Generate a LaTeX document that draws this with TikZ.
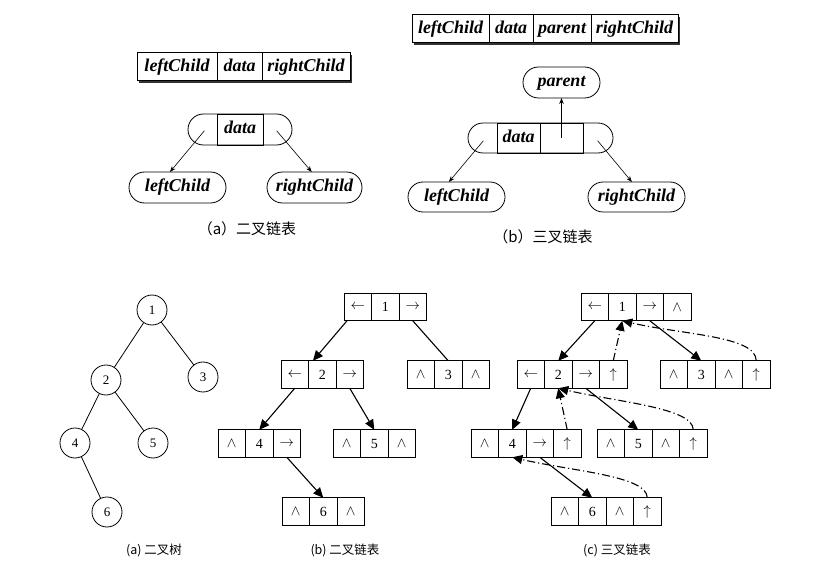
\documentclass[tikz,border=0pt]{standalone}
\usepackage{fontspec}
\setmainfont{Liberation Serif}
\newfontfamily\cjk{Noto Sans CJK SC}
\usetikzlibrary{arrows.meta,positioning,shapes.misc,shadows}
\newcommand{\cellrow}[4]{%
  \foreach \lbl [count=\i] in {#4}
    \node[cell] (#1-\i) at ({#2+27.5*(\i-1)},#3) {\lbl};}

\begin{document}
\begin{tikzpicture}[x=1pt, y=-1pt,
    rec/.style={draw, outer sep=0pt, inner sep=0pt, minimum height=28pt, line width=1pt,
      text height=12.5pt, text depth=4pt, font=\fontsize{18}{21}\selectfont\bfseries\itshape},
    hdr/.style={rec, fill=white, drop shadow={shadow xshift=1.6pt, shadow yshift=-1.6pt, opacity=1, fill=black!80}},
    oval/.style={rounded rectangle, draw, outer sep=0pt, inner sep=0pt, minimum height=31pt,
      text height=12.5pt, text depth=4pt, line width=0.8pt, font=\fontsize{18}{21}\selectfont\bfseries\itshape},
    cell/.style={draw, outer sep=0pt, inner sep=0pt, minimum size=27.5pt, line width=0.8pt,
      font=\fontsize{14}{16}\selectfont},
    vert/.style={circle, draw, minimum size=30pt, inner sep=0pt, line width=0.8pt,
      font=\fontsize{13}{15}\selectfont},
    thin arr/.style={-{Stealth[length=6pt,width=4.5pt]}, line width=0.6pt},
    arr/.style={-{Triangle[length=10pt,width=9pt]}, line width=1.1pt},
    par/.style={arr, dash pattern=on 8pt off 3pt on 1.2pt off 3pt},
    captext/.style={font=\cjk\fontsize{15}{18}\selectfont},
    subcap/.style={font=\cjk\fontsize{12.5}{15}\selectfont}
  ]
  \useasboundingbox (0,0) rectangle (831,567);

  % binary linked node
  \node[hdr, minimum width=80pt] (ra1) at (177,67) {leftChild};
  \node[hdr, minimum width=45pt, right=0pt of ra1] (ra2) {data};
  \node[hdr, minimum width=88pt, right=0pt of ra2] (ra3) {rightChild};
  \node[oval, minimum width=104pt] (an) at (240,129.5) {};
  \node[rec, minimum width=46pt, minimum height=31pt, line width=0.8pt] (an-d) at (an.center) {data};
  \node[inner sep=0pt] (an-l) at (205,130) {};
  \node[inner sep=0pt] (an-r) at (276,130) {};
  \node[oval, minimum width=97pt] (alc) at (177.5,187.5) {leftChild};
  \node[oval, minimum width=95pt] (arc) at (314.5,187.5) {rightChild};
  \draw[thin arr] (an-l) -- (alc.116);
  \draw[thin arr] (an-r) -- (arc.100);
  \node[captext] (capa) at (247,229) {（a）二叉链表};

  % triple linked node
  \node[hdr, minimum width=77pt] (rb1) at (450.5,29) {leftChild};
  \node[hdr, minimum width=44pt, right=0pt of rb1] (rb2) {data};
  \node[hdr, minimum width=58pt, right=0pt of rb2] (rb3) {parent};
  \node[hdr, minimum width=87pt, right=0pt of rb3] (rb4) {rightChild};
  \node[oval, minimum width=77pt] (bp) at (561.5,82.5) {parent};
  \node[oval, minimum width=145pt, minimum height=30pt] (bn) at (540.5,138) {};
  \node[rec, minimum width=43pt, minimum height=30pt, line width=0.8pt] (bn-d) at (518.5,138) {data};
  \node[rec, minimum width=43pt, minimum height=30pt, line width=0.8pt, right=0pt of bn-d] (bn-p) {};
  \node[inner sep=0pt] (bn-l) at (484,140) {};
  \node[inner sep=0pt] (bn-r) at (597,140) {};
  \node[oval, minimum width=97pt, minimum height=30pt] (blc) at (456.5,197) {leftChild};
  \node[oval, minimum width=97pt, minimum height=30pt] (brc) at (636.5,197) {rightChild};
  \draw[thin arr] (bn-l) -- (blc.117);
  \draw[thin arr] (bn-r) -- (brc.107);
  \draw[thin arr] (bn-p.center) -- (bp.south);
  \node[captext] (capb) at (543,237) {（b）三叉链表};

  % tree
  \node[vert] (t1) at (152,310) {1};
  \node[vert] (t2) at (106,380) {2};
  \node[vert] (t3) at (203,377) {3};
  \node[vert] (t4) at (75,443) {4};
  \node[vert] (t5) at (153,443) {5};
  \node[vert] (t6) at (107,512) {6};
  \draw[line width=0.8pt] (t1) -- (t2) (t1) -- (t3) (t2) -- (t4) (t2) -- (t5) (t4) -- (t6);

  % binary linked list
  \cellrow{b1}{357.75}{307}{$\leftarrow$,1,$\rightarrow$}
  \cellrow{b2}{294.75}{374.5}{$\leftarrow$,2,$\rightarrow$}
  \cellrow{b3}{420.75}{374.5}{$\wedge$,3,$\wedge$}
  \cellrow{b4}{231.75}{443.5}{$\wedge$,4,$\rightarrow$}
  \cellrow{b5}{346.75}{443.5}{$\wedge$,5,$\wedge$}
  \cellrow{b6}{295.75}{511.5}{$\wedge$,6,$\wedge$}
  \draw[arr] (b1-1.232) -- (b2-2.124);
  \draw[line width=1.1pt] (b1-3.south) -- (b3-2.north);
  \draw[arr] (b2-1.south) -- (b4-2.north);
  \draw[arr] (b2-3.south) -- (b5-2.north);
  \draw[arr] (b4-3.south) -- (b6-2.north);

  % triple linked list
  \cellrow{c1}{594.75}{307}{$\leftarrow$,1,$\rightarrow$,$\wedge$}
  \cellrow{c2}{530.75}{374.5}{$\leftarrow$,2,$\rightarrow$,$\uparrow$}
  \cellrow{c3}{673.75}{374.5}{$\wedge$,3,$\wedge$,$\uparrow$}
  \cellrow{c4}{484.75}{443.5}{$\wedge$,4,$\rightarrow$,$\uparrow$}
  \cellrow{c5}{610.75}{443.5}{$\wedge$,5,$\wedge$,$\uparrow$}
  \cellrow{c6}{564.75}{511.5}{$\wedge$,6,$\wedge$,$\uparrow$}
  \draw[arr] (c1-1.south) -- (c2-2.north);
  \draw[arr] (c1-3.south) -- (c3-2.north);
  \draw[arr] (c2-1.south) -- (c4-2.north);
  \draw[arr] (c2-3.south) -- (c5-2.north);
  \draw[arr] (c4-3.south) -- (c6-2.north);
  \draw[par] (c2-4.north) -- (c1-2.south);
  \draw[par] (c3-4.north) .. controls +(0,-25) and +(60,14) .. (c1-2.south);
  \draw[par] (c4-4.north) -- (c2-2.south);
  \draw[par] (c5-4.north) .. controls +(0,-22) and +(60,14) .. (c2-2.south);
  \draw[par] (c6-4.north) .. controls +(0,-22) and +(60,14) .. (c4-2.south);

  \node[subcap] (capc) at (154,550) {(a) 二叉树};
  \node[subcap] (capd) at (345,550) {(b) 二叉链表};
  \node[subcap] (cape) at (617,550) {(c) 三叉链表};
\end{tikzpicture}
\end{document}
